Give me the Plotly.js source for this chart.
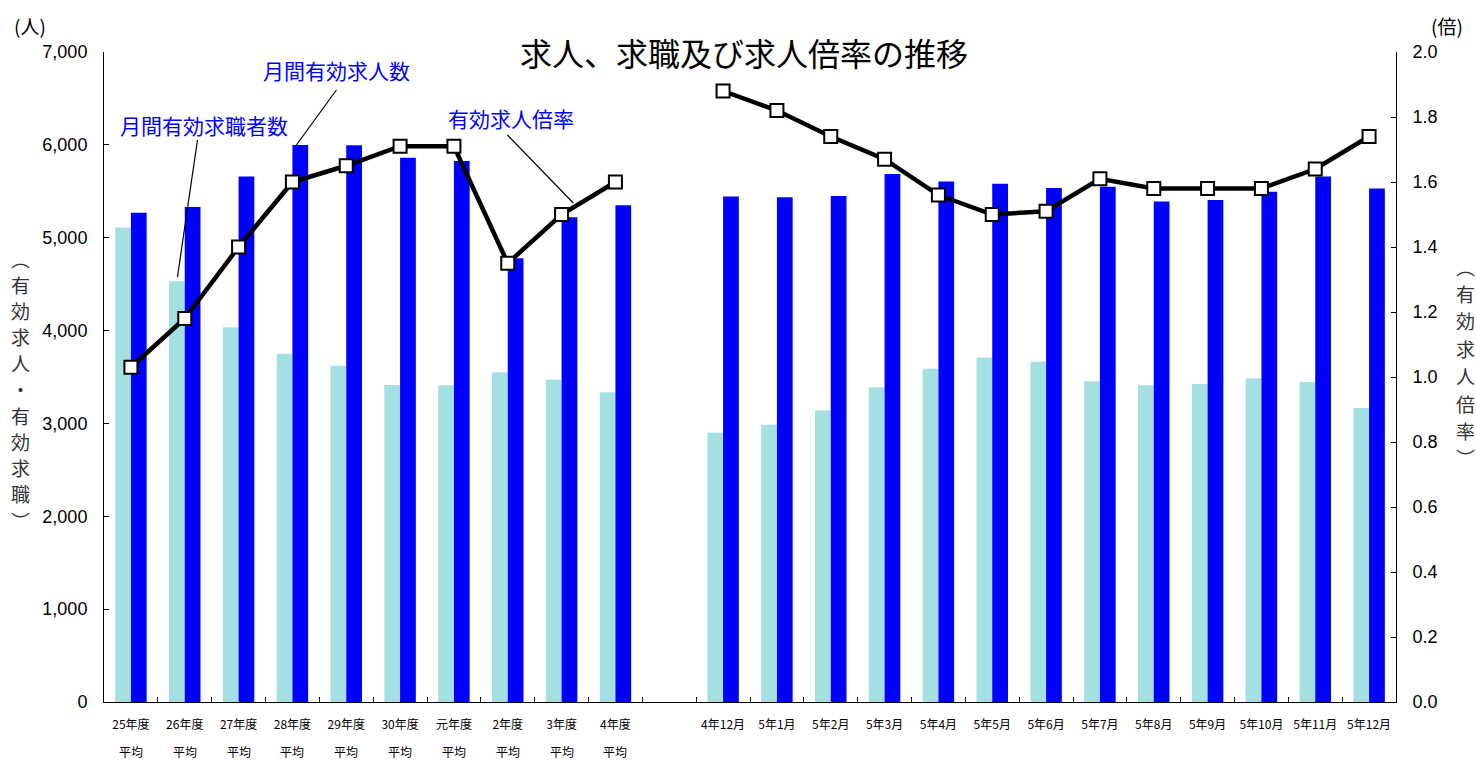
<!DOCTYPE html>
<html>
<head>
<meta charset="utf-8">
<script src="https://cdn.plot.ly/plotly-3.0.1.min.js"></script>
<style>
  html, body { margin: 0; padding: 0; background: #fff; }
  #chart { width: 1476px; height: 760px; }
</style>
</head>
<body>
<div id="chart"></div>
<script>
// ---- data ----
const categories = ['25年度','26年度','27年度','28年度','29年度','30年度','元年度','2年度','3年度','4年度','gap',
  '4年12月','5年1月','5年2月','5年3月','5年4月','5年5月','5年6月','5年7月','5年8月','5年9月','5年10月','5年11月','5年12月'];
const tickLabels = ['25年度','26年度','27年度','28年度','29年度','30年度','元年度','2年度','3年度','4年度','',
  '4年12月','5年1月','5年2月','5年3月','5年4月','5年5月','5年6月','5年7月','5年8月','5年9月','5年10月','5年11月','5年12月'];
const annualCategories = ['25年度','26年度','27年度','28年度','29年度','30年度','元年度','2年度','3年度','4年度'];
const annualSubLabel = '平均';

// 月間有効求職者数
const jobSeekers = [5110,4530,4035,3750,3620,3415,3410,3550,3470,3335,null,
  2900,2985,3140,3390,3590,3710,3665,3455,3410,3425,3485,3445,3165];
// 月間有効求人数
const jobOffers = [5270,5330,5660,5998,5995,5860,5825,4780,5220,5350,null,
  5445,5435,5450,5685,5605,5580,5535,5550,5390,5405,5495,5660,5530];
// 有効求人倍率
const ratio = [1.03,1.18,1.40,1.60,1.65,1.71,1.71,1.35,1.50,1.60,null,
  1.88,1.82,1.74,1.67,1.56,1.50,1.51,1.61,1.58,1.58,1.58,1.64,1.74];

const leftTitleChars = ['︵','有','効','求','人','・','有','効','求','職','︶'];
const rightTitleChars = ['︵','有','効','求','人','倍','率','︶'];

const JP = '"Noto Sans CJK JP", "Noto Sans", sans-serif';
const SANS = '"Liberation Sans", Arial, sans-serif';

const traces = [
  {
    type: 'bar', name: '月間有効求職者数', x: categories, y: jobSeekers,
    marker: { color: '#A4E0E2', line: { width: 0 } }, yaxis: 'y', hoverinfo: 'x+y'
  },
  {
    type: 'bar', name: '月間有効求人数', x: categories, y: jobOffers,
    marker: { color: '#0000FF', line: { width: 0 } }, yaxis: 'y', hoverinfo: 'x+y'
  },
  {
    type: 'scatter', mode: 'lines+markers', name: '有効求人倍率', x: categories, y: ratio,
    yaxis: 'y2', connectgaps: false,
    line: { color: '#000', width: 4.5 },
    marker: { symbol: 'square', size: 13, color: '#fff', line: { color: '#000', width: 2 } },
    cliponaxis: false
  }
];

// plot-area pixel helpers for text placement (plot area: x 103.5..1396, y 52..702)
const PX = px => (px - 103.5) / 1292.5;
const PY = py => (702 - py) / 650;

const annotations = [];
annualCategories.forEach(c => annotations.push({
  x: c, xref: 'x', y: PY(751), yref: 'paper', text: annualSubLabel, showarrow: false,
  font: { family: JP, size: 12, color: '#000' }, xanchor: 'center', yanchor: 'middle'
}));
annotations.push({ x: PX(29), xref: 'paper', y: PY(25), yref: 'paper', text: '(人)', showarrow: false,
  font: { family: JP, size: 19, color: '#000' }, xanchor: 'center', yanchor: 'middle' });
annotations.push({ x: PX(1447), xref: 'paper', y: PY(25), yref: 'paper', text: '(倍)', showarrow: false,
  font: { family: JP, size: 19, color: '#000' }, xanchor: 'center', yanchor: 'middle' });
leftTitleChars.forEach((ch, i) => annotations.push({
  x: PX(20), xref: 'paper', y: PY(258 + i * 26.2), yref: 'paper', text: ch, showarrow: false,
  font: { family: JP, size: 19, color: '#333' }, xanchor: 'center', yanchor: 'middle'
}));
rightTitleChars.forEach((ch, i) => annotations.push({
  x: PX(1466), xref: 'paper', y: PY(266 + i * 27.4), yref: 'paper', text: ch, showarrow: false,
  font: { family: JP, size: 19, color: '#333' }, xanchor: 'center', yanchor: 'middle'
}));
annotations.push({ x: PX(336), xref: 'paper', y: PY(70.5), yref: 'paper', text: '月間有効求人数', showarrow: false,
  font: { family: JP, size: 21, color: '#0000FF' }, xanchor: 'center', yanchor: 'middle' });
annotations.push({ x: PX(204), xref: 'paper', y: PY(125), yref: 'paper', text: '月間有効求職者数', showarrow: false,
  font: { family: JP, size: 21, color: '#0000FF' }, xanchor: 'center', yanchor: 'middle' });
annotations.push({ x: PX(511), xref: 'paper', y: PY(118), yref: 'paper', text: '有効求人倍率', showarrow: false,
  font: { family: JP, size: 21, color: '#0000FF' }, xanchor: 'center', yanchor: 'middle' });

const shapes = [
  { type: 'line', xref: 'paper', yref: 'paper', x0: PX(336), y0: PY(90), x1: PX(296), y1: PY(145), line: { color: '#000', width: 1.2 } },
  { type: 'line', xref: 'paper', yref: 'paper', x0: PX(197), y0: PY(140), x1: PX(177), y1: PY(277), line: { color: '#000', width: 1.2 } },
  { type: 'line', xref: 'paper', yref: 'paper', x0: PX(507), y0: PY(135), x1: PX(573), y1: PY(203), line: { color: '#000', width: 1.2 } }
];

const layout = {
  width: 1476, height: 760,
  margin: { l: 103.5, r: 80, t: 52, b: 58, pad: 0 },
  paper_bgcolor: '#fff', plot_bgcolor: '#fff',
  showlegend: false,
  barmode: 'group', bargap: 0.415, bargroupgap: 0,
  title: {
    text: '求人、求職及び求人倍率の推移',
    font: { family: JP, size: 32, color: '#000' },
    x: 744 / 1476, xref: 'container', xanchor: 'center',
    y: 1 - 55 / 760, yref: 'container', yanchor: 'middle'
  },
  xaxis: {
    type: 'category', categoryorder: 'array', categoryarray: categories,
    range: [-0.5, categories.length - 0.5], autorange: false,
    tickvals: categories, ticktext: tickLabels,
    tickson: 'boundaries', ticks: 'inside', ticklen: 5, tickcolor: '#000',
    showline: true, linecolor: '#000', linewidth: 1, showgrid: false, zeroline: false,
    tickangle: 0, tickfont: { family: JP, size: 12, color: '#000' }, ticklabelstandoff: 12
  },
  yaxis: {
    range: [0, 7000], tickvals: [0,1000,2000,3000,4000,5000,6000,7000], tickformat: ',d',
    ticks: 'inside', ticklen: 5, tickcolor: '#000',
    showline: true, linecolor: '#000', linewidth: 1, showgrid: false, zeroline: false,
    tickfont: { family: SANS, size: 18, color: '#000' }, ticklabelstandoff: 12
  },
  yaxis2: {
    range: [0, 2], tickvals: [0,0.2,0.4,0.6,0.8,1.0,1.2,1.4,1.6,1.8,2.0], tickformat: '.1f',
    overlaying: 'y', side: 'right',
    ticks: 'inside', ticklen: 5, tickcolor: '#000',
    showline: true, linecolor: '#000', linewidth: 1, showgrid: false, zeroline: false,
    tickfont: { family: SANS, size: 18, color: '#000' }, ticklabelstandoff: 12
  },
  annotations: annotations,
  shapes: shapes
};

Plotly.newPlot('chart', traces, layout, { displayModeBar: false, staticPlot: true });
</script>
</body>
</html>
